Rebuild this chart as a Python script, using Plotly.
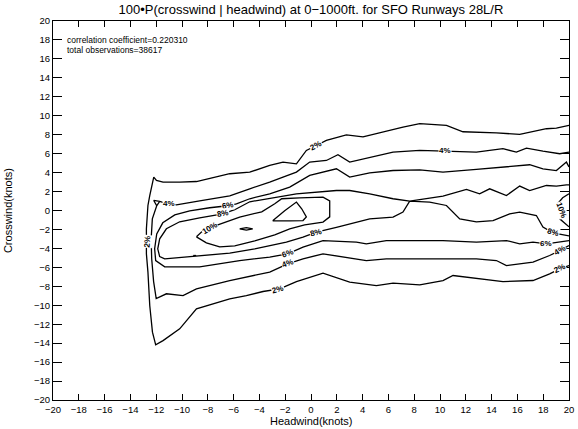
import plotly.graph_objects as go

# ---- contour lines (headwind knots, crosswind knots) ----
c2_x = [20, 19.02, 18.25, 16.95, 16.18, 14.37, 11.78, 10.5, 8.43, 7.13, 5.33, 4.03, 2.74, 1.19,
        0.42, -0.36, -1.13, -2.17, -3.2, -4.75, -6.3, -7.85, -8.88, -10.18, -11.47, -11.98, -12.19,
        -12.5, -12.64, -12.76, -12.76, -12.64, -12.5, -12.29, -12.04, -11.47, -10.18, -8.88, -7.6,
        -6.3, -5.01, -3.72, -2.43, -1.13, 0.93, 3.0, 5.07, 6.36, 8.43, 10.23, 11.01, 13.07, 14.88,
        17.21, 18.5, 19.28, 20]
c2_y = [8.98, 8.70, 8.63, 8.28, 8.03, 8.20, 8.31, 8.98, 9.16, 8.81, 8.20, 7.78, 7.99, 7.39,
        6.86, 6.34, 4.93, 5.11, 4.75, 4.05, 3.88, 3.42, 3.06, 3.00, 3.00, 3.17, 3.53,
        1.58, 0.53, -1.93, -4.57, -6.5, -10.03, -12.84, -14.18, -13.73, -12.49, -10.38, -9.85,
        -9.32, -8.98, -8.55, -8.27, -7.5, -6.61, -7.56, -7.92, -7.67, -7.85, -7.39, -6.86, -7.21, -7.5,
        -7.39, -6.68, -6.16, -5.81]

c4_x = [20, 19.28, 17.98, 16.70, 15.92, 14.88, 12.82, 10.36, 8.43, 6.36, 4.55, 3.0, 2.09, 1.19,
        -0.10, -1.13, -2.17, -3.2, -4.75, -6.3, -8.63, -10.43, -11.11, -11.73, -12.19, -11.96,
        -11.73, -11.96, -12.3, -12.39, -12.35, -12.2, -12.0, -11.21, -9.92, -8.88, -6.3, -4.5, -3.2,
        -1.81, -0.62, 0.93, 3.52, 4.29, 5.84, 8.43, 10.23, 12.82, 14.37, 15.15, 17.21, 18.5, 19.28, 20]
c4_y = [6.17, 5.99, 6.27, 6.59, 6.17, 6.52, 6.17, 6.30, 6.34, 6.17, 5.64, 5.11, 5.88, 5.28,
        5.11, 4.05, 3.53, 3.00, 2.29, 1.55, 1.02, 0.60, 0.71, 0.97, 1.06, 0.50,
        0.97, 0.50, -0.88, -2.99, -5.10, -7.5, -9.3, -8.79, -8.98, -8.27, -7.39, -6.9, -6.5,
        -5.63, -5.10, -4.57, -5.10, -5.28, -5.10, -5.10, -5.10, -5.10, -5.28, -5.81, -5.45, -4.75,
        -4.22, -3.70]

c6_x = [20, 19.80, 19.02, 17.98, 16.95, 15.15, 12.82, 10.23, 8.43, 6.36, 4.55, 3.0, 1.97, -0.10,
        -1.65, -3.2, -4.75, -5.78, -6.46, -7.85, -9.40, -10.56, -11.49, -11.96, -12.12, -12.04,
        -11.34, -8.63, -5.53, -3.2, -1.81, -0.62, 0.93, 3.52, 4.29, 5.84, 8.43, 10.23, 12.82, 15.15,
        16.18, 17.21, 18.25, 19.02, 20]
c6_y = [4.6, 5.11, 4.22, 4.40, 4.83, 4.58, 4.33, 4.05, 4.29, 4.22, 3.98, 3.53, 4.40, 3.70,
        2.47, 1.76, 1.24, 0.71, 0.50, 0.29, -0.03, -0.46, -1.30, -2.47, -4.04, -5.28,
        -5.95, -5.95, -5.28, -4.92, -4.57, -3.86, -3.17, -3.34, -3.52, -3.17, -3.17, -3.17, -3.34, -3.17,
        -3.52, -3.34, -3.52, -3.34, -3.17]

c8_x = [20, 19.80, 19.02, 18.25, 16.95, 16.18, 15.15, 13.85, 13.07, 12.05, 10.23, 8.17, 7.65,
        6.36, 4.55, 3.0, 1.97, -1.13, -3.2, -4.75, -5.91, -6.84, -8.63, -10.18, -11.21, -11.73,
        -11.88, -11.73, -11.34, -9.79, -8.63, -6.30, -4.36, -3.2, -1.91, -0.62, 0.42, 1.97, 3.0,
        4.55, 6.36, 7.13, 7.65, 9.20, 10.50, 11.53, 12.82, 14.11, 15.40, 16.18, 17.47, 17.98, 18.76,
        19.80, 20]
c8_y = [2.71, 2.71, 2.58, 2.64, 2.11, 2.58, 1.58, 2.29, 1.76, 2.22, 1.52, 1.06, 0.98,
        1.24, 1.76, 2.11, 2.11, 1.76, 1.31, 0.92, 0.08, -0.35, -0.77, -1.19, -1.93, -2.99,
        -4.04, -4.87, -5.10, -4.92, -4.75, -4.50, -4.04, -3.70, -3.34, -2.81, -2.28, -1.77, -1.40,
        -0.88, -0.70, -0.17, 0.98, 0.89, 0.53, -0.88, -1.19, -1.06, -0.35, -0.17, -0.53, -1.75, -2.35,
        -2.64, -2.68]

c10_x = [-8.88, -8.47, -7.85, -7.33, -5.53, -3.82, -2.81, -2.27, -0.88, 0.93, 1.45, 1.45, 1.45,
         0.93, -0.49, -1.65, -2.81, -4.36, -5.91, -7.08, -8.11, -8.88]
c10_y = [-2.78, -2.25, -1.93, -1.58, -0.70, -0.14, 0.71, 1.24, 1.34, 1.41, 1.02, -0.03, -0.67,
         -1.22, -1.51, -1.93, -2.57, -3.20, -3.73, -3.83, -3.41, -2.78]

c10r_x = [20, 19.51, 19.12, 19.28, 19.28, 20]
c10r_y = [1.76, 1.34, 0.71, -0.10, -0.88, -1.72]

c12_x = [-2.97, -2.04, -1.13, -0.72, -0.36, -0.62, -1.65, -2.97]
c12_y = [-1.09, -0.03, 0.89, 0.18, -0.67, -1.06, -1.09, -1.09]

dash_x = [-5.53, -5.01, -4.52, -5.01, -5.53]
dash_y = [-1.93, -1.80, -1.93, -2.06, -1.93]

dot_x = [-9.13, -8.90]
dot_y = [-4.75, -4.75]

contour_x = [c2_x, c4_x, c6_x, c8_x, c10_x, c10r_x, c12_x, dash_x, dot_x]
contour_y = [c2_y, c4_y, c6_y, c8_y, c10_y, c10r_y, c12_y, dash_y, dot_y]

# ---- in-line contour labels ----
label_text = ["2%", "4%", "4%", "6%", "8%", "10%", "2%", "8%", "6%", "4%", "2%",
              "10%", "8%", "6%", "4%", "2%"]
label_x = [0.42, 10.36, -11.0, -6.46, -6.84, -7.85, -12.66, 0.42, -1.81, -1.81, -2.58,
           19.41, 18.76, 18.25, 19.28, 19.28]
label_y = [6.86, 6.30, 0.71, 0.50, -0.35, -1.93, -3.30, -2.28, -4.57, -5.63, -8.37,
           0.0, -2.35, -3.52, -4.22, -6.16]
label_angle = [-27, 0, 0, -10, -10, -30, -85, -15, -20, -20, -15, 70, 15, 0, -30, -25]

tick_vals = list(range(-20, 21, 2))
tick_text = [str(v).replace("-", "\u2212") for v in tick_vals]

title_text = "100•P(crosswind | headwind) at 0−1000ft. for SFO Runways 28L/R"
corr_text = "correlation coefficient=0.220310"
obs_text = "total observations=38617"
x_title = "Headwind(knots)"
y_title = "Crosswind(knots)"

FONT = "Liberation Sans"
INK = "#000000"
fig = go.Figure()
for xs, ys in zip(contour_x, contour_y):
    fig.add_trace(go.Scatter(x=xs, y=ys, mode="lines",
                             line=dict(color=INK, width=1.3),
                             hoverinfo="skip", showlegend=False))

for t, x, y, a in zip(label_text, label_x, label_y, label_angle):
    fig.add_annotation(x=x, y=y, text="<b>" + t + "</b>", showarrow=False,
                       textangle=a, font=dict(family=FONT, size=8, color=INK),
                       bgcolor="white", borderpad=0)

fig.add_annotation(x=-19.1, y=18.0, text=corr_text, showarrow=False, xanchor="left",
                   font=dict(family=FONT, size=8.5, color=INK))
fig.add_annotation(x=-19.1, y=16.95, text=obs_text, showarrow=False, xanchor="left",
                   font=dict(family=FONT, size=8.5, color=INK))

fig.add_annotation(xref="paper", yref="paper", x=0.5, y=-0.056, text=x_title,
                   showarrow=False, xanchor="center", yanchor="middle",
                   font=dict(family=FONT, size=11, color=INK))
fig.add_annotation(xref="paper", yref="paper", x=-0.088, y=0.5, text=y_title,
                   showarrow=False, xanchor="center", yanchor="middle", textangle=-90,
                   font=dict(family=FONT, size=11, color=INK))

axis_common = dict(range=[-20, 20], tickmode="array", tickvals=tick_vals, ticktext=tick_text,
                   ticks="inside", mirror="ticks", showline=True, linecolor=INK,
                   linewidth=1.2, tickcolor=INK, showgrid=False, zeroline=False,
                   automargin=False,
                   tickfont=dict(family=FONT, size=9.5, color=INK))

fig.update_layout(
    width=578, height=429,
    margin=dict(l=53, r=9, t=21, b=29),
    paper_bgcolor="white", plot_bgcolor="white",
    title=dict(text=title_text, x=0.538, xanchor="center", y=0.978, yanchor="middle",
               font=dict(family=FONT, size=13, color=INK)),
    xaxis=dict(axis_common, ticklen=6, tickwidth=1.2),
    yaxis=dict(axis_common, ticklen=9, tickwidth=1.2),
)

fig.write_html("out.html",
               config={"displayModeBar": False},
               post_script="document.body.style.margin='0px';"
                           "document.body.style.overflow='hidden';")
